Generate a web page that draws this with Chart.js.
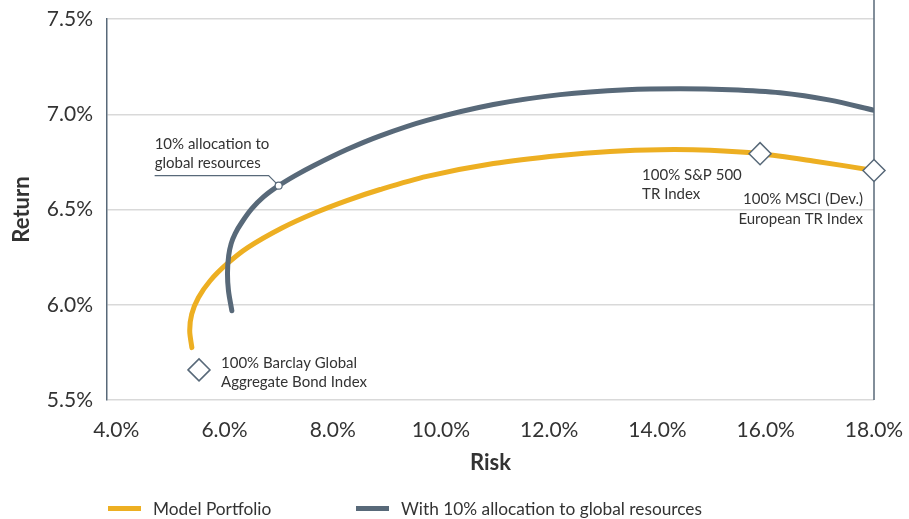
<!DOCTYPE html>
<html><head><meta charset="utf-8">
<script src="https://cdn.jsdelivr.net/npm/chart.js@4.4.1/dist/chart.umd.min.js"></script>
<style>
html,body{margin:0;padding:0;background:#fff;}
#wrap{position:relative;width:909px;height:519px;overflow:hidden;}
canvas{position:absolute;left:0;top:0;}
.lg{position:absolute;top:497px;height:22px;font:17.3px Lato, sans-serif;color:#333;display:flex;align-items:center;white-space:nowrap;}
.sw{display:inline-block;width:33px;height:5px;margin-right:12px;}
</style></head><body>
<div id="wrap"><canvas id="c" width="909" height="519"></canvas></div>
<script>
// ---- data ----
const seriesNames = ['Model Portfolio', 'With 10% allocation to global resources'];
const modelRisk   = [5.398, 5.358, 5.395, 5.520, 5.736, 6.045, 6.429, 7.061, 7.676, 8.261, 8.876, 9.739, 10.969, 12.201, 13.124, 14.048, 14.972, 15.895, 16.874, 18.000];
const modelReturn = [5.775, 5.863, 5.951, 6.038, 6.126, 6.214, 6.300, 6.403, 6.483, 6.547, 6.605, 6.674, 6.741, 6.784, 6.805, 6.814, 6.811, 6.793, 6.755, 6.705];
const resRisk     = [6.137, 6.074, 6.056, 6.078, 6.124, 6.198, 6.322, 6.506, 6.721, 7.001, 7.306, 7.644, 8.261, 8.876, 9.739, 10.969, 12.201, 13.433, 14.417, 15.341, 16.264, 17.188, 18.000];
const resReturn   = [5.968, 6.074, 6.168, 6.258, 6.321, 6.374, 6.433, 6.504, 6.566, 6.625, 6.678, 6.730, 6.815, 6.887, 6.968, 7.051, 7.103, 7.129, 7.134, 7.129, 7.113, 7.074, 7.021];
const indexNames  = [['100% Barclay Global','Aggregate Bond Index'], ['100% S&P 500','TR Index'], ['100% MSCI (Dev.)','European TR Index']];
const indexRisk   = [5.53, 15.895, 18.00];
const indexReturn = [5.658, 6.793, 6.705];
const markerText  = ['10% allocation to','global resources'];
const markerRisk  = [7.001];
const markerReturn= [6.625];
const xTicks = [4, 6, 8, 10, 12, 14, 16, 18];
const yTicks = [5.5, 6.0, 6.5, 7.0, 7.5];

// ---- styles ----
const ORANGE = '#EDAF22', SLATE = '#586979', TXT = '#333333', GRID = '#d9d9d9';
const FONT = 'Lato, sans-serif';
const labelStyle = [
  {dx: 22, dy: -7, align: 'left'},
  {dx: -118, dy: 21, align: 'left'},
  {dx: -11, dy: 29, align: 'right'}
];

// legend (HTML)
const wrap = document.getElementById('wrap');
[[108, ORANGE], [356, SLATE]].forEach((p, i) => {
  const d = document.createElement('div');
  d.className = 'lg'; d.style.left = p[0] + 'px';
  d.innerHTML = '<span class="sw" style="background:' + p[1] + '"></span>';
  d.appendChild(document.createTextNode(seriesNames[i]));
  wrap.appendChild(d);
});

const pts = (xs, ys) => xs.map((v, i) => ({x: v, y: ys[i]}));

const annot = {
  id: 'annot',
  beforeDatasetsDraw(chart) {
    const {ctx, scales: {x, y}, chartArea} = chart;
    ctx.save();
    const xr = x.getPixelForValue(xTicks[xTicks.length - 1]);
    ctx.strokeStyle = SLATE; ctx.lineWidth = 1.5;
    ctx.beginPath(); ctx.moveTo(xr, 0); ctx.lineTo(xr, chartArea.bottom); ctx.stroke();
    const px = x.getPixelForValue(markerRisk[0]), py = y.getPixelForValue(markerReturn[0]);
    ctx.lineWidth = 1.2;
    ctx.beginPath(); ctx.moveTo(px - 124, py - 10); ctx.lineTo(px - 10, py - 10); ctx.lineTo(px, py); ctx.stroke();
    ctx.restore();
  },
  afterDatasetsDraw(chart) {
    const {ctx, scales: {x, y}} = chart;
    ctx.save();
    ctx.font = '15px ' + FONT; ctx.fillStyle = TXT; ctx.textBaseline = 'middle';
    const px = x.getPixelForValue(markerRisk[0]), py = y.getPixelForValue(markerReturn[0]);
    ctx.textAlign = 'left';
    markerText.forEach((t, i) => ctx.fillText(t, px - 124, py - 42 + i * 19));
    indexNames.forEach((lines, k) => {
      const s = labelStyle[k];
      const ix = x.getPixelForValue(indexRisk[k]), iy = y.getPixelForValue(indexReturn[k]);
      ctx.textAlign = s.align;
      lines.forEach((t, i) => ctx.fillText(t, ix + s.dx, iy + s.dy + i * 19.5));
    });
    ctx.restore();
  }
};

new Chart(document.getElementById('c'), {
  type: 'scatter',
  data: {
    datasets: [
      {data: pts(indexRisk, indexReturn), pointStyle: 'rectRot', pointRadius: 11, pointHoverRadius: 11,
       backgroundColor: '#fff', borderColor: SLATE, borderWidth: 1.5, showLine: false, clip: false},
      {data: pts(markerRisk, markerReturn), pointStyle: 'circle', pointRadius: 3.5, backgroundColor: '#fff',
       borderColor: SLATE, borderWidth: 1.2, showLine: false, clip: false},
      {label: seriesNames[1], data: pts(resRisk, resReturn), showLine: true, borderColor: SLATE, borderWidth: 5,
       pointRadius: 0, tension: 0.3, borderCapStyle: 'round', borderJoinStyle: 'round', fill: false},
      {label: seriesNames[0], data: pts(modelRisk, modelReturn), showLine: true, borderColor: ORANGE, borderWidth: 5,
       pointRadius: 0, tension: 0.3, borderCapStyle: 'round', borderJoinStyle: 'round', fill: false}
    ]
  },
  options: {
    responsive: false, animation: false, devicePixelRatio: 1,
    layout: {padding: {top: 19, right: 35, left: 0, bottom: 0}},
    plugins: {legend: {display: false}, tooltip: {enabled: false}},
    scales: {
      x: {
        type: 'linear', min: 3.83, max: 18,
        afterBuildTicks: s => { s.ticks = xTicks.map(v => ({value: v})); },
        afterFit: s => { s.height = 119; s.paddingLeft = 0; s.paddingRight = 0; },
        grid: {display: false}, border: {display: false},
        ticks: {color: TXT, font: {family: FONT, size: 21}, padding: 10, maxRotation: 0,
                callback: v => v.toFixed(1) + '%'},
        title: {display: true, text: 'Risk', color: TXT, font: {family: FONT, size: 22, weight: 'bold'},
                padding: {top: 0, bottom: 43}}
      },
      y: {
        min: 5.5, max: 7.5,
        afterBuildTicks: s => { s.ticks = yTicks.map(v => ({value: v})); },
        afterFit: s => { s.width = 107; s.paddingTop = 0; s.paddingBottom = 0; },
        grid: {color: GRID, lineWidth: 1.5, drawTicks: false},
        border: {display: true, color: SLATE, width: 1.5},
        ticks: {color: TXT, font: {family: FONT, size: 21}, padding: 14, callback: v => v.toFixed(1) + '%'},
        title: {display: true, text: 'Return', color: TXT, font: {family: FONT, size: 22, weight: 'bold'},
                padding: {top: 9, bottom: 0}}
      }
    }
  },
  plugins: [annot]
});
</script>
</body></html>
